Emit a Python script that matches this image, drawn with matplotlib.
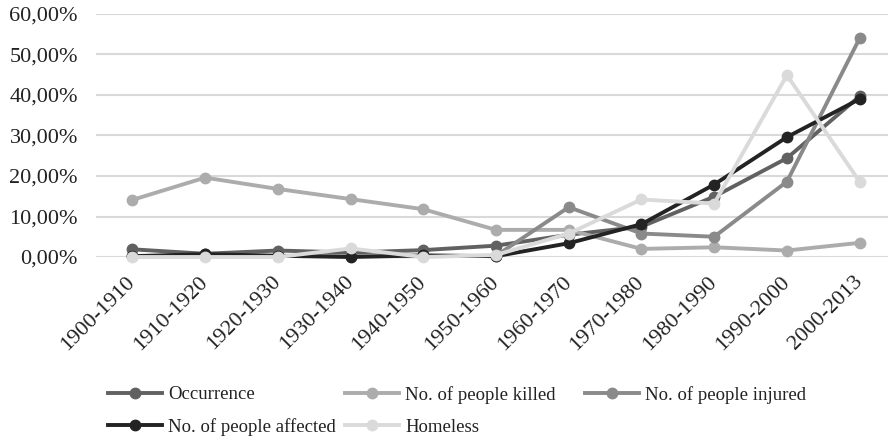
import matplotlib
matplotlib.use("Agg")
import matplotlib.pyplot as plt
from matplotlib.ticker import FuncFormatter
from matplotlib.font_manager import FontProperties

categories = ["1900-1910", "1910-1920", "1920-1930", "1930-1940", "1940-1950", "1950-1960",
              "1960-1970", "1970-1980", "1980-1990", "1990-2000", "2000-2013"]
occurrence = [1.9, 0.8, 1.6, 1.1, 1.7, 2.8, 5.5, 7.5, 14.9, 24.4, 39.7]
killed = [14.1, 19.6, 16.8, 14.3, 11.8, 6.7, 6.7, 2.0, 2.4, 1.6, 3.5]
injured = [0.2, 0.3, 0.3, 0.2, 0.2, 0.3, 12.3, 5.8, 5.0, 18.6, 54.0]
affected = [0.2, 0.7, 0.3, 0.0, 0.4, 0.2, 3.4, 8.1, 17.9, 29.6, 39.0]
homeless = [0.0, 0.0, 0.0, 2.1, 0.0, 0.5, 5.8, 14.2, 13.2, 44.9, 18.6]

series = [
    ("Occurrence", occurrence, "#616161"),
    ("No. of people killed", killed, "#acacac"),
    ("No. of people injured", injured, "#8a8a8a"),
    ("No. of people affected", affected, "#232323"),
    ("Homeless", homeless, "#dadada"),
]

plt.rcParams['font.family'] = ['Liberation Serif', 'DejaVu Serif']

fig = plt.figure(figsize=(8.88, 4.42), dpi=100)
ax = fig.add_axes([96/888, 1-257/442, 1-96/888, (257-14)/442])

x = list(range(len(categories)))
handles = {}
for name, vals, col in series:
    h, = ax.plot(x, vals, color=col, lw=2.8, marker='o', markersize=7.5,
                 label=name, clip_on=False, zorder=3)
    handles[name] = h

ax.set_ylim(0, 60)
ax.set_yticks(range(0, 61, 10))
ax.yaxis.set_major_formatter(FuncFormatter(lambda v, p: f"{v:.2f}".replace('.', ',') + "%"))
ax.set_xlim(-0.5, 10.39)
ax.set_xticks(x)
ax.set_xticklabels(categories, rotation=45, ha='right', rotation_mode='anchor', va='center')
ax.tick_params(axis='both', length=0, labelsize=16, colors='#222222')
ax.tick_params(axis='y', pad=13)
ax.tick_params(axis='x', pad=16)
ax.grid(axis='y', color='#d9d9d9', lw=1.5)
ax.set_axisbelow(True)
for s in ax.spines.values():
    s.set_visible(False)

lp = FontProperties(family='Liberation Serif', size=13.5)
columns = [
    (108, ["Occurrence", "No. of people affected"]),
    (345, ["No. of people killed", "Homeless"]),
    (585, ["No. of people injured"]),
]
for xpix, names in columns:
    lg = fig.legend([handles[n] for n in names], names, loc='upper left',
                    bbox_to_anchor=(xpix/888, 1-386/442), ncol=1, frameon=False,
                    prop=lp, handlelength=2.9, handletextpad=0.3,
                    labelspacing=0.8, borderaxespad=0, borderpad=0)
    for t in lg.get_texts():
        t.set_color('#222222')

fig.savefig("out.png", dpi=100)
